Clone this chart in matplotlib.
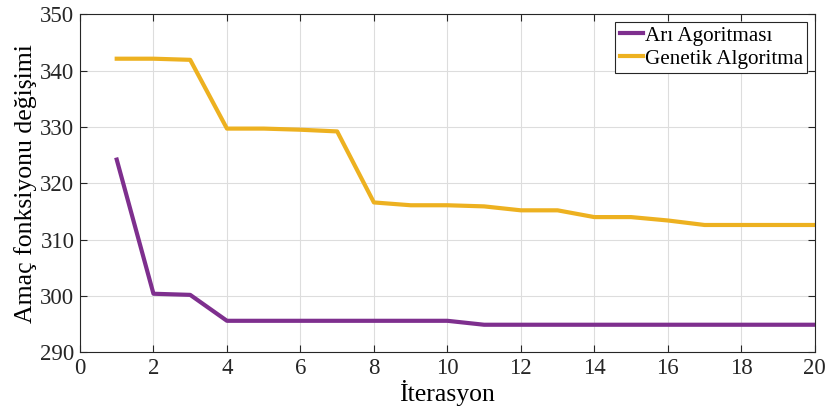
import numpy as np
import matplotlib.pyplot as plt

# iteration-wise objective values
iterasyon = np.arange(1, 21)
ari = [324.2, 300.4, 300.2, 295.6, 295.6, 295.6, 295.6, 295.6, 295.6, 295.6,
       294.9, 294.9, 294.9, 294.9, 294.9, 294.9, 294.9, 294.9, 294.9, 294.9]
genetik = [342.1, 342.1, 341.9, 329.7, 329.7, 329.5, 329.2, 316.6, 316.1, 316.1,
           315.9, 315.2, 315.2, 314.0, 314.0, 313.4, 312.6, 312.6, 312.6, 312.6]

plt.rcParams['font.family'] = ['Liberation Serif', 'DejaVu Serif']

fig = plt.figure(figsize=(8.28, 4.17), dpi=100)
ax = fig.add_axes([0.0966, 0.155, 0.8874, 0.811])

ax.plot(iterasyon, ari, color='#7E2F8E', lw=3, label='Arı Agoritması')
ax.plot(iterasyon, genetik, color='#EDB120', lw=3, label='Genetik Algoritma')

ax.set_xlim(0, 20)
ax.set_ylim(290, 350)
ax.set_xticks(np.arange(0, 21, 2))
ax.set_yticks(np.arange(290, 351, 10))
ax.tick_params(direction='in', top=True, right=True, labelsize=16.5,
               length=5, width=0.8, colors='#262626', pad=4)
ax.grid(True, color='#dddddd', lw=0.8)
for s in ax.spines.values():
    s.set_color('#262626')
    s.set_linewidth(0.8)

ax.set_xlabel('İterasyon', fontsize=18.5, labelpad=1)
ax.set_ylabel('Amaç fonksiyonu değişimi', fontsize=18.5, labelpad=2)

leg = ax.legend(loc='upper right', fontsize=15.2, fancybox=False, framealpha=1,
                edgecolor='#262626', handlelength=1.1, handletextpad=0.1,
                borderpad=0.2, labelspacing=0.15, borderaxespad=0.35)
leg.get_frame().set_linewidth(0.8)

fig.savefig('out.png', dpi=100)
